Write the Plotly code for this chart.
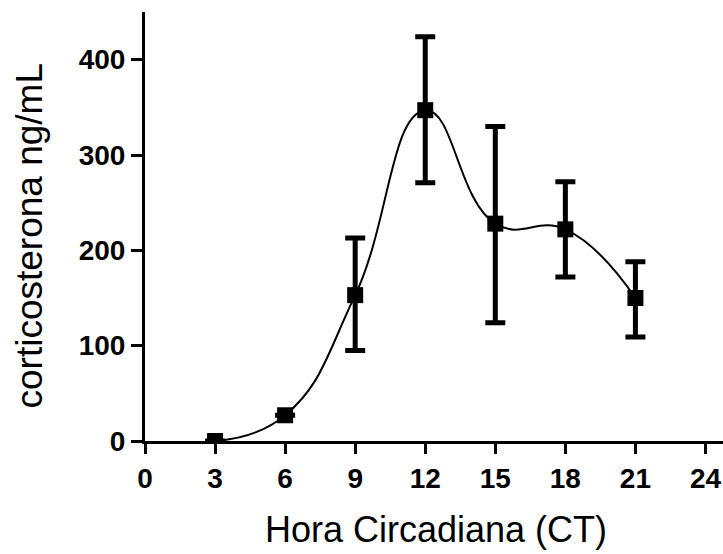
import plotly.graph_objects as go

ct_hours = [3, 6, 9, 12, 15, 18, 21]
cort_mean = [0, 27, 153, 347, 228, 222, 150]
err_plus = [0, 0, 60, 77, 102, 50, 38]
err_minus = [0, 0, 58, 76, 104, 50, 41]
x_ticks = [0, 3, 6, 9, 12, 15, 18, 21, 24]
y_ticks = [0, 100, 200, 300, 400]

fig = go.Figure()
fig.add_trace(go.Scatter(
    x=ct_hours, y=cort_mean,
    mode="lines",
    line=dict(color="black", width=2, shape="spline", smoothing=1.3),
    hoverinfo="skip", showlegend=False,
))
fig.add_trace(go.Scatter(
    x=ct_hours, y=cort_mean,
    mode="markers",
    marker=dict(symbol="square", size=16, color="black"),
    error_y=dict(type="data", array=err_plus, arrayminus=err_minus,
                 color="black", thickness=5, width=10, visible=True),
    showlegend=False,
))

fig.update_layout(
    width=723, height=554,
    margin=dict(l=145, r=0, t=12, b=113),
    paper_bgcolor="white", plot_bgcolor="white",
    font=dict(family="Liberation Sans, Arial, sans-serif", color="black", size=24),
)
fig.update_xaxes(range=[0, 24.75], tickvals=x_ticks, ticktext=["<b>%d</b>" % v for v in x_ticks],
                 showline=True, linecolor="black", linewidth=3, ticks="outside",
                 ticklen=10, tickwidth=3, tickcolor="black", showgrid=False,
                 zeroline=False, tickfont=dict(size=28, color="black"))
fig.update_yaxes(range=[0, 450], tickvals=y_ticks, ticktext=["<b>%d</b>" % v for v in y_ticks],
                 showline=True, linecolor="black", linewidth=3, ticks="outside",
                 ticklen=11, tickwidth=3, tickcolor="black", showgrid=False,
                 zeroline=False, tickfont=dict(size=28, color="black"))
fig.add_annotation(text="Hora Circadiana (CT)", xref="paper", yref="paper", x=0.504, y=-0.207,
                   xanchor="center", yanchor="middle", showarrow=False,
                   font=dict(size=36, color="black"))
fig.add_annotation(text="corticosterona ng/mL", xref="paper", yref="paper", x=-0.2, y=0.48,
                   xanchor="center", yanchor="middle", showarrow=False, textangle=-90,
                   font=dict(size=37, color="black"))

fig.write_html("out.html")
